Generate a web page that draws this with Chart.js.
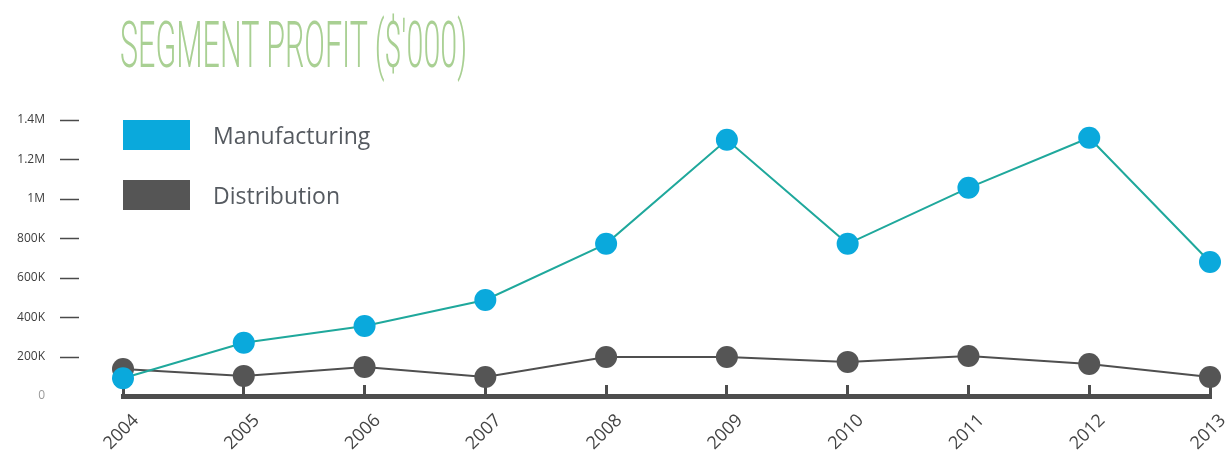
<!DOCTYPE html>
<html>
<head>
<meta charset="utf-8">
<script src="https://cdn.jsdelivr.net/npm/chart.js@4"></script>
<style>
  html, body { margin: 0; padding: 0; background: #fff; }
  #wrap { position: relative; width: 1227px; height: 457px; }
  #title {
    position: absolute; left: 120px; top: 14px;
    font-family: "Roboto", "Liberation Sans Narrow", sans-serif; font-weight: 300;
    font-size: 64px; line-height: 64px; color: #a9d093; white-space: nowrap;
    transform-origin: 0 0;
  }
  #legend { position: absolute; left: 123px; top: 120px; font-family: "Open Sans", sans-serif; }
  .item { display: flex; align-items: center; height: 30px; margin-bottom: 30px; }
  .box { width: 67px; height: 30px; margin-right: 23px; }
  .label { font-size: 23px; color: #555a60; }
</style>
</head>
<body>
<div id="wrap">
  <canvas id="chart" width="1227" height="457"></canvas>
  <div id="title">SEGMENT PROFIT ($'000)</div>
  <div id="legend"></div>
</div>
<script>
// dados
var years = ['2004', '2005', '2006', '2007', '2008', '2009', '2010', '2011', '2012', '2013'];
var manufacturing = [90000, 270000, 355000, 487000, 772000, 1300000, 772000, 1056000, 1310000, 680000];
var distribution = [137000, 102000, 147000, 96000, 198000, 198000, 173000, 203000, 162000, 96000];
var yTicks = [0, 200000, 400000, 600000, 800000, 1000000, 1200000, 1400000];

// título estreito: ajusta a largura
var title = document.getElementById('title');
title.style.transform = 'scaleX(' + (347 / title.offsetWidth) + ')';

function fmt(v){
  if (v === 0) return '0';
  if (v >= 1000000) return (v / 1000000) + 'M';
  return (v / 1000) + 'K';
}

// traços ao lado dos rótulos do eixo y
var dashPlugin = {
  id: 'dashes',
  afterDraw: function(chart){
    var ctx = chart.ctx, y = chart.scales.y;
    ctx.save();
    ctx.strokeStyle = '#4a4a4a';
    ctx.lineWidth = 1.5;
    yTicks.forEach(function(v){
      if (v === 0) return;
      var py = Math.round(y.getPixelForValue(v)) + 0.5;
      ctx.beginPath();
      ctx.moveTo(60, py);
      ctx.lineTo(79, py);
      ctx.stroke();
    });
    ctx.restore();
  }
};

var chart = new Chart(document.getElementById('chart'), {
  type: 'line',
  data: {
    labels: years,
    datasets: [{
      label: 'Manufacturing',
      data: manufacturing,
      borderColor: '#1fa89c',
      borderWidth: 2,
      backgroundColor: '#0aa9dc',
      pointBackgroundColor: '#0aa9dc',
      pointBorderWidth: 0,
      pointRadius: 11,
      pointHoverRadius: 11,
      tension: 0
    }, {
      label: 'Distribution',
      data: distribution,
      borderColor: '#4f4f4f',
      borderWidth: 2,
      backgroundColor: '#555555',
      pointBackgroundColor: '#555555',
      pointBorderWidth: 0,
      pointRadius: 11,
      pointHoverRadius: 11,
      tension: 0
    }]
  },
  options: {
    responsive: false,
    animation: false,
    clip: false,
    layout: { autoPadding: false, padding: { top: 120, right: 17, left: 0, bottom: 0 } },
    plugins: {
      legend: { display: false },
      title: { display: false },
      tooltip: { enabled: false }
    },
    scales: {
      x: {
        afterFit: function(s){ s.height = 61; s.paddingLeft = 0; s.paddingRight = 0; },
        border: { display: true, width: 5, color: '#4d4d4d' },
        grid: { drawOnChartArea: false, drawTicks: true, tickLength: -11, lineWidth: 3, color: '#4d4d4d' },
        ticks: {
          minRotation: 45, maxRotation: 45, autoSkip: false,
          padding: 25, labelOffset: 13,
          color: '#444444',
          font: { family: 'Open Sans', size: 18 }
        }
      },
      y: {
        min: 0, max: 1400000,
        afterFit: function(s){ s.width = 123; s.paddingTop = 0; s.paddingBottom = 0; },
        afterBuildTicks: function(s){ s.ticks = yTicks.map(function(v){ return { value: v }; }); },
        border: { display: false },
        grid: { display: false, drawTicks: false },
        ticks: {
          padding: 78,
          color: function(c){ return c.tick.value === 0 ? '#9a9a9a' : '#3d3d3d'; },
          font: { family: 'Open Sans', size: 12 },
          callback: function(v){ return fmt(v); }
        }
      }
    }
  },
  plugins: [dashPlugin]
});

// legenda em HTML a partir dos datasets
var legend = document.getElementById('legend');
chart.data.datasets.forEach(function(ds){
  var item = document.createElement('div');
  item.className = 'item';
  item.innerHTML = '<div class="box" style="background:' + ds.backgroundColor + '"></div><span class="label">' + ds.label + '</span>';
  legend.appendChild(item);
});
</script>
</body>
</html>
